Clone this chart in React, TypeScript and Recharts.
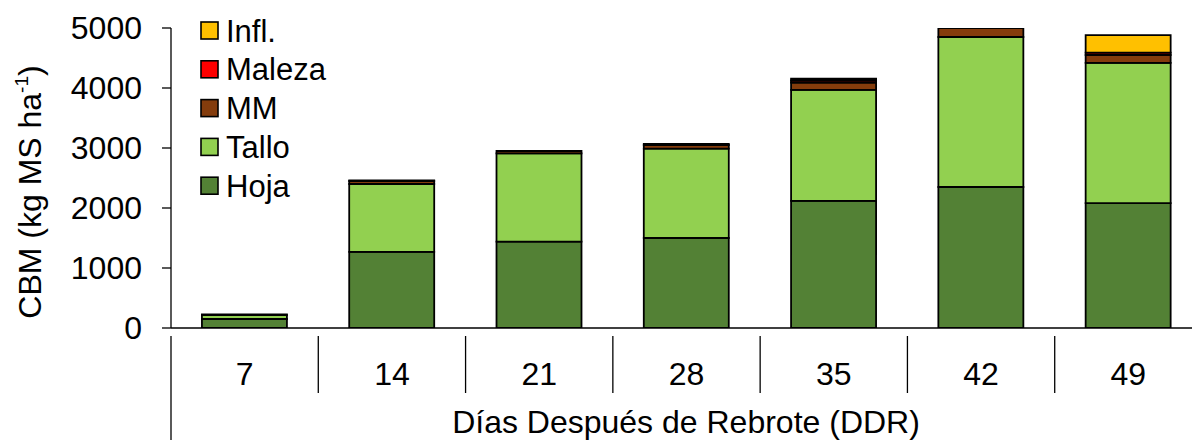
import React from 'react';
import { BarChart, Bar, XAxis, YAxis, Customized } from 'recharts';

const categories = ['7', '14', '21', '28', '35', '42', '49'];
const hoja = [150, 1270, 1440, 1500, 2120, 2350, 2080];
const tallo = [65, 1130, 1470, 1490, 1850, 2500, 2340];
const mm = [10, 50, 40, 60, 120, 180, 130];
const maleza = [0, 10, 0, 20, 35, 0, 40];
const infl = [0, 0, 0, 0, 30, 0, 290];

const yTicks = [0, 1000, 2000, 3000, 4000, 5000];
const seriesKeys = ['hoja', 'tallo', 'mm', 'maleza', 'infl'];
const seriesNames = ['Hoja', 'Tallo', 'MM', 'Maleza', 'Infl.'];
const seriesColors = ['#538135', '#92D050', '#843C0C', '#FF0000', '#FFC000'];
const xTitle = 'Días Después de Rebrote (DDR)';

const data = categories.map((c, i) => ({
  cat: c,
  hoja: hoja[i],
  tallo: tallo[i],
  mm: mm[i],
  maleza: maleza[i],
  infl: infl[i],
}));

const FONT = '"Liberation Sans", Arial, sans-serif';

const XTick = (props: any) => {
  const { x, y, payload, index } = props;
  const off = payload.offset || 0;
  return (
    <g>
      <text x={x} y={y + 49} textAnchor="middle" fontSize={32} fontFamily={FONT} fill="#000">
        {payload.value}
      </text>
      <line x1={x + off} y1={y} x2={x + off} y2={y + 57} stroke="#000" strokeWidth={1.3} />
      {index === 0 ? (
        <line x1={x - off} y1={y} x2={x - off} y2={y + 120} stroke="#000" strokeWidth={1.3} />
      ) : null}
    </g>
  );
};

const LegendBlock = () => {
  const order = [4, 3, 2, 1, 0];
  return (
    <g>
      {order.map((si, k) => (
        <g key={seriesKeys[si]}>
          <rect x={201} y={22 + k * 38.8} width={17} height={17} fill={seriesColors[si]} stroke="#000" strokeWidth={1.6} />
          <text x={226} y={41.5 + k * 38.8} fontSize={31} fontFamily={FONT} fill="#000">
            {seriesNames[si]}
          </text>
        </g>
      ))}
    </g>
  );
};

const YLabel = () => (
  <text
    transform="translate(41,192) rotate(-90)"
    textAnchor="middle"
    fontSize={32}
    fontFamily={FONT}
    fill="#000"
  >
    CBM (kg MS ha
    <tspan fontSize={19} dy={-13}>-1</tspan>
    <tspan dy={13}>)</tspan>
  </text>
);

const XTitle = () => (
  <text x={686} y={433} textAnchor="middle" fontSize={32} fontFamily={FONT} fill="#000">
    {xTitle}
  </text>
);

export default function App() {
  return (
    <div style={{ position: 'absolute', left: 0, top: 0, width: 1192, height: 440, overflow: 'hidden', background: '#fff' }}>
      <BarChart
        width={1210}
        height={440}
        data={data}
        margin={{ top: 28, right: 8, bottom: 0, left: 0 }}
        barCategoryGap="21%"
      >
        <XAxis
          dataKey="cat"
          height={112}
          tickLine={false}
          axisLine={{ stroke: '#000', strokeWidth: 1.3 }}
          tick={<XTick />}
          interval={0}
        />
        <YAxis
          width={171}
          domain={[0, 5000]}
          ticks={yTicks}
          allowDataOverflow
          interval={0}
          tickSize={9}
          tickMargin={20}
          axisLine={{ stroke: '#000', strokeWidth: 1.3 }}
          tickLine={{ stroke: '#000', strokeWidth: 1.3 }}
          tick={{ fontSize: 32, fontFamily: FONT, fill: '#000' }}
        />
        {seriesKeys.map((k, i) => (
          <Bar
            key={k}
            dataKey={k}
            name={seriesNames[i]}
            stackId="a"
            fill={seriesColors[i]}
            stroke="#000"
            strokeWidth={1.8}
            isAnimationActive={false}
          />
        ))}
        <Customized component={LegendBlock} />
        <Customized component={YLabel} />
        <Customized component={XTitle} />
      </BarChart>
    </div>
  );
}
